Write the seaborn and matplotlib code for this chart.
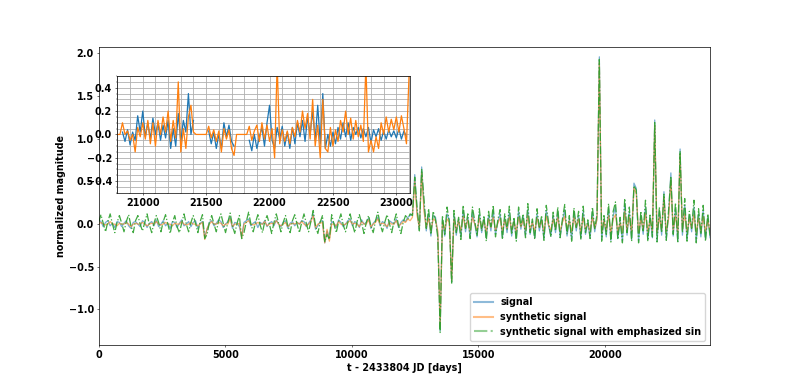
import numpy as np
import pandas as pd
import matplotlib
matplotlib.use("Agg")
import matplotlib.pyplot as plt
import seaborn as sns

nan = np.nan

# full light curve, evenly sampled from 0 to t_end
t_end = 24150
signal = [
    0.05, 0.03, -0.03, 0.02, 0.04, -0.02, 0.01, -0.04, 0.03, 0.02,
    -0.03, 0.01, 0.04, -0.02, -0.05, 0.02, 0.03, 0.0, -0.03, 0.04,
    0.02, -0.04, 0.01, 0.03, -0.02, 0.05, -0.03, 0.0, 0.04, -0.02,
    0.01, -0.05, 0.03, 0.02, -0.04, 0.01, 0.05, -0.02, 0.0, 0.03,
    -0.03, 0.02, 0.04, -0.05, 0.01, 0.03, -0.15, -0.06, 0.02, 0.04,
    -0.02, 0.01, 0.05, 0.03, -0.04, 0.0, 0.03, 0.08, -0.05, 0.02,
    0.01, -0.03, -0.15, 0.02, 0.04, 0.06, -0.02, 0.01, 0.03, -0.04,
    0.02, 0.0, 0.04, -0.03, 0.01, 0.03, -0.02, 0.05, 0.0, -0.03,
    0.02, 0.04, -0.05, 0.01, 0.03, -0.02, 0.02, 0.0, 0.04, 0.03,
    -0.03, 0.01, 0.05, 0.12, -0.06, -0.02, 0.03, 0.04, -0.22, -0.08,
    -0.16, 0.03, 0.01, -0.04, 0.05, 0.02, -0.03, 0.0, 0.04, 0.06,
    -0.02, 0.03, 0.01, -0.04, 0.05, 0.0, 0.02, 0.07, -0.05, 0.01,
    0.04, 0.08, -0.02, 0.03, 0.01, -0.05, 0.04, 0.02, 0.0, 0.06,
    -0.04, 0.02, 0.05, 0.03, 0.08, 0.1, 0.12, 0.58, 0.15, -0.06,
    0.67, 0.22, -0.08, 0.12, -0.14, 0.1, 0.08, -0.12, -1.25, 0.05,
    -0.14, 0.12, 0.05, -0.68, 0.1, -0.13, 0.06, -0.15, 0.16, -0.09,
    0.08, -0.16, 0.14, 0.0, -0.15, 0.12, -0.1, 0.06, -0.16, 0.1,
    -0.08, 0.15, -0.12, 0.02, 0.12, -0.16, 0.08, -0.1, 0.14, -0.14,
    0.05, -0.17, 0.15, -0.06, 0.09, -0.14, 0.17, -0.12, 0.03, -0.16,
    0.12, -0.08, 0.06, -0.17, 0.16, -0.02, -0.14, 0.1, -0.1, 0.14,
    -0.15, 0.03, 0.17, -0.14, 0.06, -0.18, 0.14, -0.08, 0.1, -0.17,
    0.15, -0.12, 0.02, -0.16, 0.14, -0.09, 0.08, 1.96, -0.18, 0.06,
    -0.15, 0.18, -0.19, 0.1, 0.2, -0.17, 0.04, -0.2, 0.24, -0.13,
    0.14, -0.18, 0.48, 0.42, -0.2, 0.1, -0.12, 0.2, -0.18, 0.08,
    -0.16, 1.22, -0.2, 0.15, -0.13, 0.38, -0.18, 0.1, 0.6, -0.14,
    0.18, -0.2, 0.88, -0.13, 0.22, -0.18, 0.1, -0.09, 0.2, -0.2,
    0.12, -0.15, 0.16, -0.18, 0.08, -0.16,
]
synthetic = [
    0.0, 0.02, 0.0, -0.01, 0.0, 0.03, 0.0, 0.0, -0.02, 0.01,
    0.0, 0.0, 0.02, 0.0, -0.03, 0.0, 0.01, 0.0, 0.0, 0.02,
    0.0, -0.02, 0.0, 0.01, 0.0, 0.03, 0.0, -0.01, 0.0, 0.02,
    0.0, 0.0, -0.02, 0.01, 0.0, 0.0, 0.03, 0.0, -0.01, 0.0,
    0.02, 0.0, 0.0, -0.02, 0.0, 0.02, -0.18, -0.05, 0.0, 0.03,
    0.0, 0.0, 0.02, 0.01, -0.02, 0.0, 0.0, 0.06, -0.03, 0.0,
    0.0, 0.01, -0.16, 0.0, 0.02, 0.04, 0.0, -0.01, 0.0, 0.02,
    0.0, 0.0, 0.03, -0.02, 0.0, 0.01, 0.0, 0.04, 0.0, -0.02,
    0.0, 0.02, -0.03, 0.0, 0.01, 0.0, 0.02, 0.0, 0.03, 0.0,
    -0.02, 0.0, 0.03, 0.1, -0.04, 0.0, 0.01, 0.02, -0.22, -0.06,
    -0.2, 0.0, 0.0, -0.02, 0.03, 0.0, -0.01, 0.0, 0.02, 0.04,
    0.0, 0.01, 0.0, -0.03, 0.03, 0.0, 0.0, 0.05, -0.03, 0.0,
    0.02, 0.06, 0.0, 0.01, 0.0, -0.03, 0.02, 0.0, 0.0, 0.04,
    -0.02, 0.0, 0.03, 0.02, 0.06, 0.04, 0.08, 0.5, 0.1, -0.04,
    0.6, 0.15, -0.04, 0.07, -0.08, 0.06, 0.04, -0.08, -1.2, 0.03,
    -0.07, 0.06, 0.02, -0.66, 0.06, -0.07, 0.04, -0.08, 0.09, -0.05,
    0.05, -0.08, 0.08, 0.0, -0.08, 0.07, -0.05, 0.04, -0.09, 0.06,
    -0.04, 0.08, -0.07, 0.01, 0.07, -0.08, 0.05, -0.05, 0.08, -0.07,
    0.03, -0.09, 0.08, -0.03, 0.05, -0.07, 0.1, -0.06, 0.02, -0.08,
    0.07, -0.04, 0.04, -0.09, 0.09, -0.01, -0.07, 0.06, -0.05, 0.08,
    -0.08, 0.02, 0.09, -0.07, 0.04, -0.09, 0.08, -0.04, 0.06, -0.09,
    0.08, -0.06, 0.01, -0.08, 0.08, -0.05, 0.05, 1.9, -0.1, 0.04,
    -0.08, 0.1, -0.1, 0.06, 0.11, -0.09, 0.02, -0.1, 0.15, -0.07,
    0.08, -0.09, 0.42, 0.36, -0.1, 0.06, -0.06, 0.12, -0.09, 0.05,
    -0.08, 1.16, -0.1, 0.08, -0.07, 0.32, -0.09, 0.06, 0.52, -0.07,
    0.1, -0.1, 0.82, -0.07, 0.12, -0.09, 0.06, -0.05, 0.11, -0.1,
    0.07, -0.08, 0.09, -0.09, 0.05, -0.1,
]
emphasized = [
    0.02, 0.11, 0.01, -0.09, 0.03, 0.12, 0.0, -0.1, 0.02, 0.1,
    0.01, -0.09, 0.03, 0.11, -0.02, -0.1, 0.04, 0.1, 0.0, -0.08,
    0.02, 0.12, -0.01, -0.1, 0.01, 0.1, 0.02, -0.09, 0.03, 0.11,
    0.0, -0.11, 0.02, 0.1, -0.03, -0.1, 0.01, 0.12, 0.0, -0.09,
    0.02, 0.1, 0.01, -0.1, 0.03, 0.11, -0.17, -0.12, 0.02, 0.1,
    0.0, -0.09, 0.04, 0.12, 0.01, -0.1, 0.02, 0.13, -0.02, -0.11,
    0.01, 0.1, -0.17, -0.1, 0.03, 0.14, 0.0, -0.09, 0.02, 0.11,
    -0.01, -0.1, 0.03, 0.1, 0.0, -0.11, 0.02, 0.12, 0.01, -0.09,
    0.02, 0.1, -0.02, -0.1, 0.04, 0.11, 0.0, -0.1, 0.02, 0.12,
    0.01, -0.09, 0.03, 0.16, -0.02, -0.11, 0.02, 0.1, -0.21, -0.12,
    -0.18, 0.11, 0.0, -0.1, 0.03, 0.12, -0.01, -0.09, 0.02, 0.12,
    0.0, -0.1, 0.03, 0.11, 0.01, -0.11, 0.02, 0.1, -0.02, -0.1,
    0.04, 0.14, 0.0, -0.09, 0.02, 0.11, 0.01, -0.1, 0.03, 0.12,
    -0.02, -0.11, 0.02, 0.1, 0.06, 0.12, 0.1, 0.55, 0.2, -0.08,
    0.64, 0.3, -0.05, 0.18, -0.12, 0.15, 0.05, -0.16, -1.27, 0.1,
    -0.12, 0.2, 0.02, -0.70, 0.16, -0.1, 0.08, -0.18, 0.22, -0.05,
    0.12, -0.17, 0.2, 0.04, -0.14, 0.18, -0.08, 0.1, -0.2, 0.15,
    -0.03, 0.22, -0.15, 0.05, 0.17, -0.18, 0.12, -0.06, 0.21, -0.12,
    0.08, -0.2, 0.2, -0.02, 0.12, -0.16, 0.24, -0.1, 0.06, -0.18,
    0.18, -0.05, 0.1, -0.19, 0.22, 0.02, -0.15, 0.14, -0.08, 0.2,
    -0.16, 0.06, 0.23, -0.12, 0.1, -0.2, 0.19, -0.04, 0.15, -0.18,
    0.21, -0.1, 0.05, -0.17, 0.2, -0.06, 0.12, 1.93, -0.2, 0.1,
    -0.12, 0.24, -0.21, 0.15, 0.26, -0.18, 0.08, -0.22, 0.3, -0.1,
    0.2, -0.2, 0.45, 0.4, -0.22, 0.15, -0.08, 0.28, -0.2, 0.12,
    -0.15, 1.19, -0.21, 0.2, -0.1, 0.35, -0.19, 0.16, 0.56, -0.12,
    0.25, -0.22, 0.85, -0.1, 0.3, -0.2, 0.15, -0.05, 0.28, -0.22,
    0.18, -0.12, 0.22, -0.2, 0.12, -0.14,
]

# zoomed window, one sample every 20 days from 20800
inset_start = 20800
inset_step = 20
inset_signal = [
    nan, nan, 0.02, -0.06, 0.04, -0.09, 0.02, -0.05, 0.16, 0.02,
    0.2, -0.02, 0.1, -0.04, 0.14, 0.0, 0.1, -0.05, 0.08, -0.03,
    0.12, -0.12, 0.05, -0.1, 0.18, -0.06, 0.12, 0.02, 0.35, 0.0,
    0.12, nan, nan, nan, nan, nan, 0.03, -0.08, 0.02, -0.12,
    0.0, -0.12, 0.1, -0.02, 0.08, -0.06, -0.1, nan, nan, nan,
    nan, nan, -0.05, -0.14, 0.0, -0.12, -0.02, 0.06, -0.1, 0.1,
    0.25, -0.05, -0.12, 0.06, -0.04, 0.07, -0.1, 0.02, -0.12, 0.06,
    -0.08, 0.1, -0.02, 0.12, -0.06, 0.15, 0.0, 0.2, -0.05, 0.25,
    -0.08, 0.35, -0.12, 0.0, -0.1, 0.02, -0.08, 0.06, -0.04, 0.1,
    -0.02, 0.1, -0.05, 0.06, 0.0, 0.06, -0.03, 0.05, -0.02, 0.06,
    -0.07, 0.04, -0.02, 0.05, -0.05, 0.03, -0.04, 0.04, -0.02, 0.03,
    -0.03, 0.05, -0.04, 0.03, -0.02, nan,
]
inset_synthetic = [
    0.0, 0.0, 0.1, 0.0, 0.03, -0.05, 0.0, -0.15, 0.06, -0.02,
    0.1, -0.04, 0.12, -0.08, 0.1, -0.1, 0.12, 0.0, 0.15, 0.02,
    0.2, -0.06, 0.12, -0.03, 0.45, -0.15, 0.05, -0.12, 0.15, 0.25,
    0.02, 0.0, 0.0, 0.0, 0.0, 0.0, 0.07, -0.03, 0.04, -0.06,
    0.03, -0.15, 0.05, -0.04, 0.04, -0.12, -0.18, 0.0, 0.0, 0.0,
    0.0, 0.0, 0.07, -0.05, 0.03, 0.08, -0.06, 0.1, -0.04, 0.08,
    -0.06, 0.05, -0.2, 0.6, -0.08, 0.04, -0.06, 0.03, -0.08, 0.06,
    -0.02, 0.12, 0.02, 0.2, 0.05, 0.18, -0.04, 0.3, -0.1, 0.08,
    -0.2, 0.3, -0.12, -0.15, 0.06, -0.1, 0.04, -0.06, 0.12, 0.02,
    0.2, 0.0, 0.14, -0.04, 0.12, -0.02, 0.08, -0.06, 0.6, -0.15,
    -0.05, -0.15, -0.02, -0.12, 0.1, 0.0, 0.15, 0.02, 0.13, 0.04,
    0.15, 0.02, 0.16, 0.05, -0.08, 0.5,
]

# the original looks like a big figure scaled down: small ticks, thin spines
plt.rcParams['font.size'] = 6.9
plt.rcParams['font.weight'] = 'bold'
plt.rcParams['axes.labelweight'] = 'bold'
plt.rcParams['axes.linewidth'] = 0.5
plt.rcParams['axes.labelpad'] = 2.0
for a in ('xtick', 'ytick'):
    plt.rcParams[a + '.major.size'] = 1.7
    plt.rcParams[a + '.minor.size'] = 1.0
    plt.rcParams[a + '.major.width'] = 0.4
    plt.rcParams[a + '.minor.width'] = 0.3
    plt.rcParams[a + '.major.pad'] = 1.7
    plt.rcParams[a + '.minor.pad'] = 1.7

t = np.linspace(0, t_end, len(signal))
df = pd.DataFrame({'t': t, 'signal': signal, 'synthetic': synthetic,
                   'emphasized': emphasized})

fig, ax = plt.subplots(figsize=(7.89, 3.88), dpi=100)
sns.lineplot(data=df, x='t', y='signal', ax=ax, color='C0', lw=0.9, alpha=0.6,
             estimator=None, sort=False, label='signal')
sns.lineplot(data=df, x='t', y='synthetic', ax=ax, color='C1', lw=0.9, alpha=0.6,
             estimator=None, sort=False, label='synthetic signal')
sns.lineplot(data=df, x='t', y='emphasized', ax=ax, color='C2', lw=0.9, alpha=0.9,
             linestyle='-.', estimator=None, sort=False,
             label='synthetic signal with emphasized sin')
ax.set_xlim(0, t_end)
ax.set_ylim(-1.42, 2.08)
ax.set_xlabel('t - 2433804 JD [days]')
ax.set_ylabel('normalized magnitude')
leg = ax.legend(loc='lower right', fontsize=6.9)
for line in leg.get_lines():
    line.set_linewidth(1.5)
    line.set_alpha(0.5)

# inset with the zoomed window
ti = inset_start + inset_step * np.arange(len(inset_synthetic))
dfi = pd.DataFrame({'t': ti, 'signal': inset_signal, 'synthetic': inset_synthetic})
dfi['seg'] = dfi['signal'].isna().cumsum()
dfi_sig = dfi.dropna(subset=['signal'])

axins = fig.add_axes([0.148, 0.503, 0.372, 0.301])
sns.lineplot(data=dfi_sig, x='t', y='signal', units='seg', ax=axins, color='C0',
             lw=0.9, estimator=None, sort=False)
sns.lineplot(data=dfi, x='t', y='synthetic', ax=axins, color='C1', lw=0.9,
             estimator=None, sort=False)
axins.set_xlim(20795, 23110)
axins.set_ylim(-0.5, 0.5)
axins.set_xticks([21000, 21500, 22000, 22500, 23000])
axins.set_yticks([-0.4, -0.2, 0.0, 0.2, 0.4])
axins.minorticks_on()
axins.grid(which='both', color='#b0b0b0', lw=0.6)
axins.set_axisbelow(True)
axins.set_xlabel('')
axins.set_ylabel('')

fig.savefig('out.png', dpi=100)
